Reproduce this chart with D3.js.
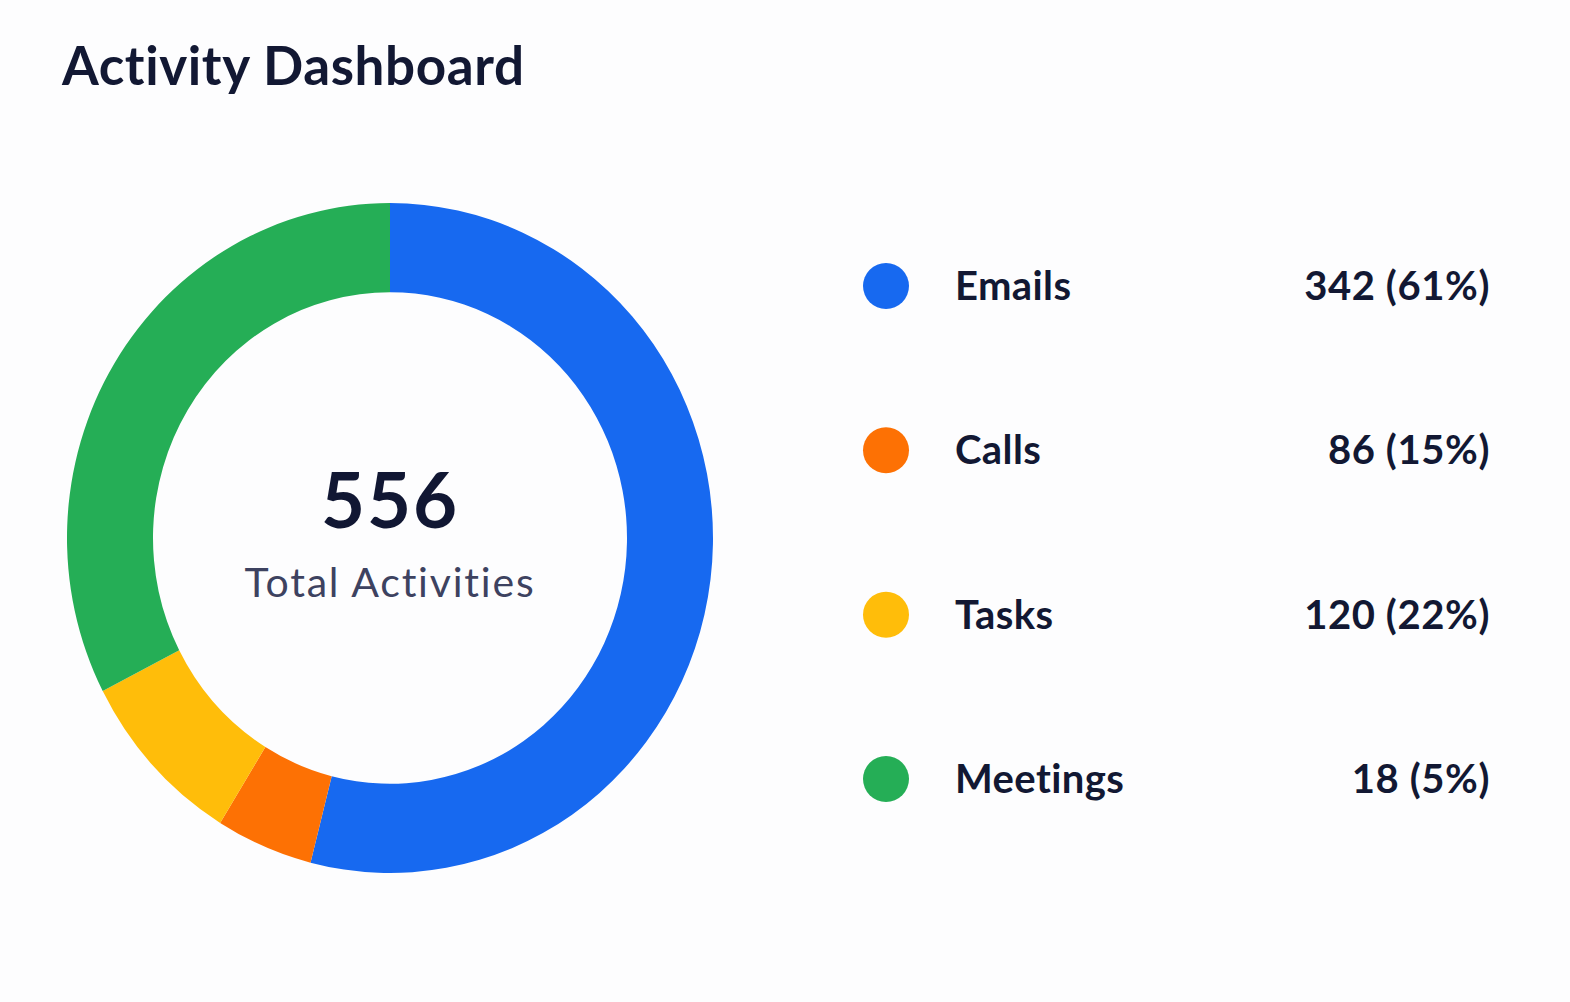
<!DOCTYPE html>
<html>
<head>
<meta charset="utf-8">
<script src="https://cdn.jsdelivr.net/npm/d3@7"></script>
<style>
  html, body { margin: 0; padding: 0; background: #fdfdfe; }
  svg { display: block; font-family: Lato, "Open Sans", sans-serif; font-variant-ligatures: none; }
</style>
</head>
<body>
<div id="chart"></div>
<script>
// categories and values
const categories = ['Emails', 'Calls', 'Tasks', 'Meetings'];
const colors = ['#1769f0', '#fd7104', '#ffbd0a', '#25ae56'];
// arc shares as drawn in the ring
const sliceValues = [300, 27, 48, 181];
// numbers printed in the legend
const legendCounts = [342, 86, 120, 18];
const legendPercents = [61, 15, 22, 5];
const totalLabel = '556';

const width = 1570, height = 1002;

const svg = d3.select('#chart')
    .append('svg')
    .attr('width', width)
    .attr('height', height);

svg.append('rect')
    .attr('width', width)
    .attr('height', height)
    .attr('fill', '#fdfdfe');

// Title
svg.append('text')
    .attr('x', 62)
    .attr('y', 85)
    .attr('fill', '#121833')
    .style('font-size', '53px')
    .style('font-weight', 700)
    .style('letter-spacing', '0.6px')
    .text('Activity Dashboard');

// Donut
const outerR = 323, innerR = 237;
const pie = d3.pie().sort(null).value(d => d);
const arc = d3.arc().innerRadius(innerR).outerRadius(outerR);

const donut = svg.append('g')
    .attr('transform', 'translate(390,538) scale(1,1.037)');

donut.selectAll('path')
    .data(pie(sliceValues))
    .enter()
    .append('path')
    .attr('d', arc)
    .attr('fill', (d, i) => colors[i]);

// Center labels
svg.append('text')
    .attr('x', 390)
    .attr('y', 528)
    .attr('text-anchor', 'middle')
    .attr('fill', '#111733')
    .style('font-size', '76px')
    .style('font-weight', 700)
    .style('letter-spacing', '2px')
    .text(totalLabel);

svg.append('text')
    .attr('x', 390)
    .attr('y', 597)
    .attr('text-anchor', 'middle')
    .attr('fill', '#3d4260')
    .style('font-size', '41px')
    .style('font-weight', 400)
    .style('letter-spacing', '1.8px')
    .text('Total Activities');

// Legend
const yLegend = d3.scalePoint()
    .domain(categories)
    .range([286, 779]);

const rows = svg.append('g')
    .selectAll('g')
    .data(categories)
    .enter()
    .append('g')
    .attr('transform', d => `translate(0,${yLegend(d)})`);

rows.append('circle')
    .attr('cx', 886)
    .attr('cy', 0)
    .attr('r', 23)
    .attr('fill', (d, i) => colors[i]);

rows.append('text')
    .attr('x', 955)
    .attr('y', 14)
    .attr('fill', '#121833')
    .style('font-size', '40px')
    .style('font-weight', 700)
    .style('letter-spacing', '0.4px')
    .text(d => d);

rows.append('text')
    .attr('x', 1490)
    .attr('y', 14)
    .attr('text-anchor', 'end')
    .attr('fill', '#121833')
    .style('font-size', '40px')
    .style('font-weight', 700)
    .style('letter-spacing', '0.6px')
    .text((d, i) => `${legendCounts[i]} (${legendPercents[i]}%)`);
</script>
</body>
</html>
